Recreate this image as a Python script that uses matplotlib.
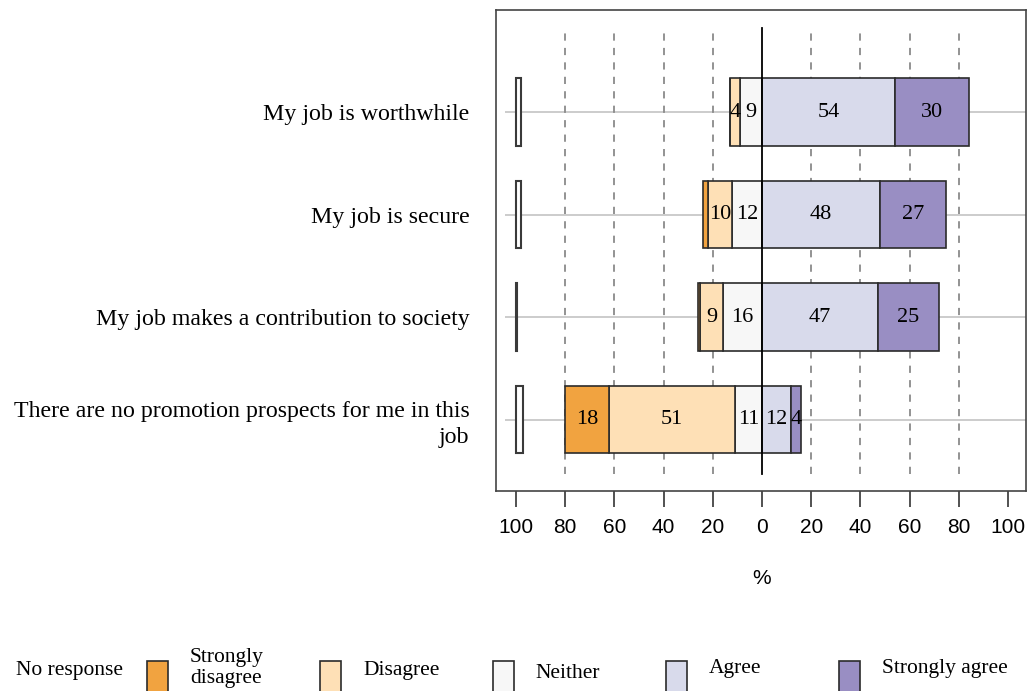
import numpy as np
import matplotlib.pyplot as plt
from matplotlib.patches import Rectangle

# Survey items, top to bottom
items = [
    "My job is worthwhile",
    "My job is secure",
    "My job makes a contribution to society",
    "There are no promotion prospects for me in this\njob",
]

# Percentages
no_response = [2, 2, 0.5, 3]
strongly_disagree = [0, 2, 1, 18]
disagree = [4, 10, 9, 51]
neither = [9, 12, 16, 11]
agree = [54, 48, 47, 12]
strongly_agree = [30, 27, 25, 4]

legend_labels = ["Strongly\ndisagree", "Disagree", "Neither", "Agree", "Strongly agree"]
colors = ["#f1a340", "#fee0b6", "#f7f7f7", "#d8daeb", "#998ec3"]

serif = "Liberation Serif"
sans = "Liberation Sans"

fig = plt.figure(figsize=(10.29, 6.91), dpi=100)
ax = fig.add_axes([0.482, 0.289, 0.515, 0.697])

rows = np.arange(len(items), 0, -1)
height = 0.66
edge = "#2b2b2b"
label_size = 16

# Reference lines
ax.hlines(rows, -104.5, 110, color="#c8c8c8", lw=1.3, zorder=0)
for x in [-80, -60, -40, -20, 20, 40, 60, 80]:
    ax.plot([x, x], [0.47, 4.82], color="#8a8a8a", lw=1.3, ls=(0, (4, 4)), zorder=0)
ax.plot([0, 0], [0.47, 4.82], color="black", lw=1.3, zorder=3)

# Negative side: neither, disagree, strongly disagree (stacked leftwards)
neg_series = [neither, disagree, strongly_disagree]
neg_colors = [colors[2], colors[1], colors[0]]
left = np.zeros(len(items))
for vals, col in zip(neg_series, neg_colors):
    vals = np.array(vals, dtype=float)
    left = left - vals
    ax.barh(rows, vals, left=left, height=height, color=col, edgecolor=edge, lw=1.2, zorder=2)
    for r, l, v in zip(rows, left, vals):
        if v >= 3:
            ax.text(l + v / 2, r, f"{v:g}", ha="center", va="center",
                    fontsize=label_size, family=serif, zorder=4)

# Positive side: agree, strongly agree
left = np.zeros(len(items))
for vals, col in zip([agree, strongly_agree], [colors[3], colors[4]]):
    vals = np.array(vals, dtype=float)
    ax.barh(rows, vals, left=left, height=height, color=col, edgecolor=edge, lw=1.2, zorder=2)
    for r, l, v in zip(rows, left, vals):
        if v >= 3:
            ax.text(l + v / 2, r, f"{v:g}", ha="center", va="center",
                    fontsize=label_size, family=serif, zorder=4)
    left = left + vals

# No response, drawn at the far left
ax.barh(rows, no_response, left=-100, height=height, color="white",
        edgecolor="#3a3a3a", lw=1.5, zorder=2)

ax.set_xlim(-108.1, 107.3)
ax.set_ylim(0.30, 5.0)

ticks = np.arange(-100, 101, 20)
ax.set_xticks(ticks)
ax.set_xticklabels([str(abs(t)) for t in ticks], family=sans, fontsize=15)
ax.tick_params(axis="x", length=11.5, width=1.2, color="#333333", pad=8)
ax.set_yticks(rows)
ax.set_yticklabels(items, family=serif, fontsize=17.2, linespacing=1.3)
ax.tick_params(axis="y", length=0, pad=19)

for s in ax.spines.values():
    s.set_color("#444444")
    s.set_linewidth(1.2)

fig.text(762 / 1029, 1 - 578 / 691, "%", ha="center", va="center", family=sans, fontsize=15)

# Legend row at the bottom
def fx(px):
    return px / 1029

def fy(py):
    return 1 - py / 691

fig.text(fx(16), fy(671), "No response", ha="left", va="center", family=serif, fontsize=15.5)
patch_x = [147, 320, 493, 666, 839]
text_x = [190, 363, 535, 709, 882]
text_y = [668, 670, 673, 669, 668]
for px, tx, ty, col, lab in zip(patch_x, text_x, text_y, colors, legend_labels):
    fig.patches.append(Rectangle((fx(px), fy(700)), 21 / 1029, 39 / 691,
                                 transform=fig.transFigure, facecolor=col,
                                 edgecolor=edge, lw=1.2))
    fig.text(fx(tx), fy(ty), lab, ha="left", va="center", family=serif,
             fontsize=15.5, linespacing=1.1)

fig.savefig("out.png", dpi=100)
